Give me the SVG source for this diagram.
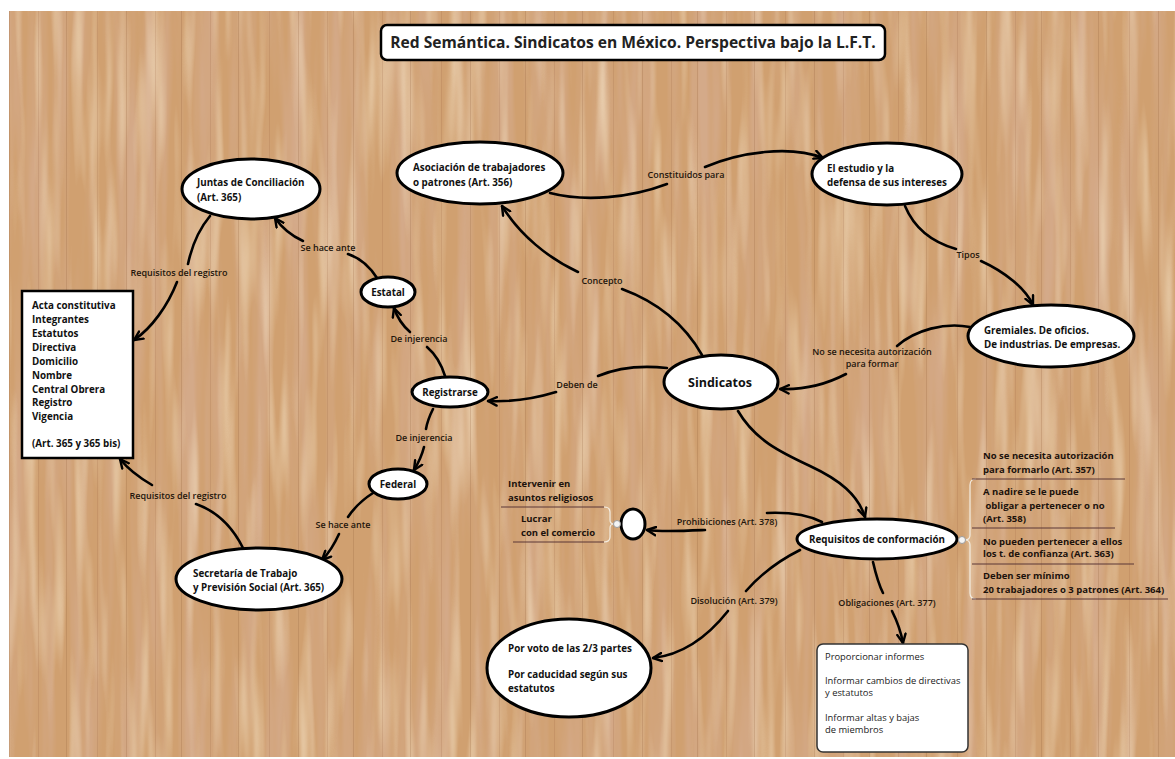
<svg xmlns="http://www.w3.org/2000/svg" width="1175" height="759" viewBox="0 0 1175 759">
<style>
  .node { fill: #ffffff; stroke: #000000; stroke-width: 3; }
  .nt { font-family: "Open Sans", "Noto Sans", sans-serif; font-weight: 700; font-size: 9.8px; fill: #111111; }
  .big { font-size: 12.5px; }
  .lbl { font-family: "Open Sans", "Noto Sans", sans-serif; font-weight: 600; font-size: 9px; fill: #24160c; text-anchor: middle; }
  .conn { fill: none; stroke: #000000; stroke-width: 2.6; stroke-linecap: round; }
  .sep { stroke: #5a3636; stroke-width: 1; }
  .brk { fill: none; stroke: #f4ede2; stroke-width: 1.2; }
  .dot { fill: #f4f4f4; stroke: #9a9a9a; stroke-width: 1; }
  .lt { font-family: "Open Sans", "Noto Sans", sans-serif; font-weight: 700; font-size: 9.5px; fill: #1c120c; }
  .ob { font-family: "Open Sans", "Noto Sans", sans-serif; font-weight: 400; font-size: 9.4px; fill: #222222; }
</style>
<defs>
  <marker id="arr" viewBox="0 0 10 10" refX="9" refY="5" markerWidth="11" markerHeight="11" markerUnits="userSpaceOnUse" orient="auto">
    <path d="M1,1.2 L9,5 L1,8.8" fill="none" stroke="#000" stroke-width="2.2" stroke-linecap="round" stroke-linejoin="round"/>
  </marker>
  <filter id="grain" x="0" y="0" width="100%" height="100%">
    <feTurbulence type="fractalNoise" baseFrequency="0.055 0.003" numOctaves="3" seed="7"/>
    <feColorMatrix type="matrix" values="0 0 0 0 0.66  0 0 0 0 0.40  0 0 0 0 0.25  2.6 0 0 0 -1.05"/>
  </filter>
  <filter id="grain2" x="0" y="0" width="100%" height="100%">
    <feTurbulence type="fractalNoise" baseFrequency="0.08 0.006" numOctaves="2" seed="21"/>
    <feColorMatrix type="matrix" values="0 0 0 0 0.88  0 0 0 0 0.72  0 0 0 0 0.52  1.6 0 0 0 -0.75"/>
  </filter>
  <pattern id="boards" x="9" y="0" width="172" height="759" patternUnits="userSpaceOnUse">
    <line x1="0.5" y1="0" x2="0.5" y2="759" stroke="#8f5a36" stroke-opacity="0.22" stroke-width="1"/>
    <line x1="29.5" y1="0" x2="29.5" y2="759" stroke="#8f5a36" stroke-opacity="0.16" stroke-width="1"/>
    <line x1="57.5" y1="0" x2="57.5" y2="759" stroke="#8f5a36" stroke-opacity="0.22" stroke-width="1"/>
    <line x1="88.5" y1="0" x2="88.5" y2="759" stroke="#8f5a36" stroke-opacity="0.16" stroke-width="1"/>
    <line x1="117.5" y1="0" x2="117.5" y2="759" stroke="#8f5a36" stroke-opacity="0.22" stroke-width="1"/>
    <line x1="146.5" y1="0" x2="146.5" y2="759" stroke="#8f5a36" stroke-opacity="0.16" stroke-width="1"/>
  </pattern>
</defs>

<rect x="0" y="0" width="1175" height="759" fill="#ffffff"/>
<g id="background">
  <rect x="9" y="11" width="1166" height="746" fill="#d0a070"/>
  <rect x="9" y="11" width="1166" height="746" filter="url(#grain)"/>
  <rect x="9" y="11" width="1166" height="746" filter="url(#grain2)"/>
  <rect x="9" y="11" width="1166" height="746" fill="url(#boards)"/>
</g>

<g id="title">
  <rect x="381" y="25" width="504" height="35" rx="6" ry="6" fill="#ffffff" stroke="#000" stroke-width="2.5"/>
  <text x="633" y="48" text-anchor="middle" font-family="'Open Sans', 'Noto Sans', sans-serif" font-weight="700" font-size="15.6px" fill="#222">Red Semántica. Sindicatos en México. Perspectiva bajo la L.F.T.</text>
</g>

<g id="connectors">
  <path class="conn" d="M550,193 C585,202 630,198 667,184"/>
  <path class="conn" d="M705,167 C740,152 790,145 823,158" marker-end="url(#arr)"/>
  <path class="conn" d="M905,206 C915,230 935,243 956,249"/>
  <path class="conn" d="M981,261 C1005,272 1025,288 1033,305" marker-end="url(#arr)"/>
  <path class="conn" d="M970,327 C945,322 915,330 897,346"/>
  <path class="conn" d="M846,374 C825,385 805,390 780,389" marker-end="url(#arr)"/>
  <path class="conn" d="M702,355 C685,325 660,303 622,289"/>
  <path class="conn" d="M578,272 C548,258 520,235 502,206" marker-end="url(#arr)"/>
  <path class="conn" d="M667,368 C640,365 617,368 598,376"/>
  <path class="conn" d="M556,392 C530,400 510,402 488,401" marker-end="url(#arr)"/>
  <path class="conn" d="M445,376 C441,363 434,353 427,347"/>
  <path class="conn" d="M410,332 C402,325 397,317 394,308" marker-end="url(#arr)"/>
  <path class="conn" d="M377,278 C370,267 360,258 348,254"/>
  <path class="conn" d="M303,241 C292,236 282,228 275,218" marker-end="url(#arr)"/>
  <path class="conn" d="M210,216 C200,228 192,245 188,264"/>
  <path class="conn" d="M177,282 C168,305 152,328 134,340" marker-end="url(#arr)"/>
  <path class="conn" d="M243,548 C232,526 216,511 196,504"/>
  <path class="conn" d="M152,485 C140,478 128,469 120,459" marker-end="url(#arr)"/>
  <path class="conn" d="M433,409 C429,417 427,423 426,429"/>
  <path class="conn" d="M424,447 C422,455 419,462 414,470" marker-end="url(#arr)"/>
  <path class="conn" d="M373,493 C362,500 354,508 348,517"/>
  <path class="conn" d="M339,534 C334,545 329,553 322,560" marker-end="url(#arr)"/>
  <path class="conn" d="M738,411 C755,440 780,452 810,466 C840,480 858,495 865,517" marker-end="url(#arr)"/>
  <path class="conn" d="M822,522 C810,516 790,512 767,513"/>
  <path class="conn" d="M705,530 C682,531 662,532 647,530" marker-end="url(#arr)"/>
  <path class="conn" d="M800,550 C780,560 760,575 746,591"/>
  <path class="conn" d="M728,611 C705,640 680,655 653,658" marker-end="url(#arr)"/>
  <path class="conn" d="M873,562 C876,575 879,585 883,593"/>
  <path class="conn" d="M892,611 C897,621 901,632 903,643" marker-end="url(#arr)"/>

  <text class="lbl" x="686" y="178">Constituidos para</text>
  <text class="lbl" x="968" y="258">Tipos</text>
  <text class="lbl" x="872" y="355">No se necesita autorización</text>
  <text class="lbl" x="872" y="367">para formar</text>
  <text class="lbl" x="602" y="284">Concepto</text>
  <text class="lbl" x="577" y="388">Deben de</text>
  <text class="lbl" x="419" y="342">De injerencia</text>
  <text class="lbl" x="424" y="441">De injerencia</text>
  <text class="lbl" x="328" y="251">Se hace ante</text>
  <text class="lbl" x="179" y="276">Requisitos del registro</text>
  <text class="lbl" x="178" y="499">Requisitos del registro</text>
  <text class="lbl" x="343" y="528">Se hace ante</text>
  <text class="lbl" x="727" y="525">Prohibiciones (Art. 378)</text>
  <text class="lbl" x="734" y="604">Disolución (Art. 379)</text>
  <text class="lbl" x="887" y="606">Obligaciones (Art. 377)</text>
</g>

<g id="node-juntas">
  <ellipse class="node" cx="251" cy="189" rx="69" ry="30"/>
  <text class="nt" x="197" y="186">Juntas de Conciliación</text>
  <text class="nt" x="197" y="201">(Art. 365)</text>
</g>
<g id="node-asociacion">
  <ellipse class="node" cx="480" cy="173" rx="83" ry="31"/>
  <text class="nt" x="413" y="171">Asociación de trabajadores</text>
  <text class="nt" x="413" y="186">o patrones (Art. 356)</text>
</g>
<g id="node-estudio">
  <ellipse class="node" cx="887" cy="174" rx="75" ry="31"/>
  <text class="nt" x="827" y="172">El estudio y la</text>
  <text class="nt" x="827" y="186">defensa de sus intereses</text>
</g>
<g id="node-gremiales">
  <ellipse class="node" cx="1051" cy="336" rx="83" ry="31"/>
  <text class="nt" x="984" y="334">Gremiales. De oficios.</text>
  <text class="nt" x="984" y="348">De industrias. De empresas.</text>
</g>
<g id="node-sindicatos">
  <ellipse class="node" cx="721" cy="382" rx="57" ry="27"/>
  <text class="nt big" x="720" y="387" text-anchor="middle">Sindicatos</text>
</g>
<g id="node-registrarse">
  <ellipse class="node" cx="450" cy="392" rx="38" ry="15"/>
  <text class="nt" x="450" y="396" text-anchor="middle">Registrarse</text>
</g>
<g id="node-estatal">
  <ellipse class="node" cx="388" cy="292" rx="27" ry="15"/>
  <text class="nt" x="388" y="296" text-anchor="middle">Estatal</text>
</g>
<g id="node-federal">
  <ellipse class="node" cx="398" cy="484" rx="29" ry="15"/>
  <text class="nt" x="398" y="488" text-anchor="middle">Federal</text>
</g>
<g id="node-acta">
  <rect x="22" y="291" width="111" height="167" fill="#ffffff" stroke="#000" stroke-width="2.5"/>
  <text class="nt" x="32" y="309">Acta constitutiva</text>
  <text class="nt" x="32" y="323">Integrantes</text>
  <text class="nt" x="32" y="337">Estatutos</text>
  <text class="nt" x="32" y="351">Directiva</text>
  <text class="nt" x="32" y="365">Domicilio</text>
  <text class="nt" x="32" y="379">Nombre</text>
  <text class="nt" x="32" y="393">Central Obrera</text>
  <text class="nt" x="32" y="406">Registro</text>
  <text class="nt" x="32" y="420">Vigencia</text>
  <text class="nt" x="32" y="447">(Art. 365 y 365 bis)</text>
</g>
<g id="node-secretaria">
  <ellipse class="node" cx="259" cy="579" rx="83" ry="31"/>
  <text class="nt" x="193" y="577">Secretaría de Trabajo</text>
  <text class="nt" x="193" y="591">y Previsión Social (Art. 365)</text>
</g>
<g id="node-requisitos">
  <ellipse class="node" cx="877" cy="539" rx="80" ry="20"/>
  <text class="nt" x="877" y="543" text-anchor="middle">Requisitos de conformación</text>
</g>
<g id="node-prohibiciones">
  <ellipse class="node" cx="633" cy="524" rx="12" ry="15"/>
</g>
<g id="node-disolucion">
  <ellipse class="node" cx="569" cy="668" rx="82" ry="49"/>
  <text class="nt" x="508" y="652">Por voto de las 2/3 partes</text>
  <text class="nt" x="508" y="678">Por caducidad según sus</text>
  <text class="nt" x="508" y="692">estatutos</text>
</g>
<g id="node-obligaciones">
  <rect x="817" y="644" width="151" height="108" rx="6" ry="6" fill="#ffffff" stroke="#333" stroke-width="1.5"/>
  <text class="ob" x="825" y="660">Proporcionar informes</text>
  <text class="ob" x="825" y="684">Informar cambios de directivas</text>
  <text class="ob" x="825" y="696">y estatutos</text>
  <text class="ob" x="825" y="721">Informar altas y bajas</text>
  <text class="ob" x="825" y="733">de miembros</text>
</g>
<g id="node-lista-requisitos">
  <path class="brk" d="M976,479 Q970,479 970,485 L970,535 Q970,540 965,540 Q970,540 970,545 L970,593 Q970,599 976,599"/>
  <circle class="dot" cx="962" cy="540" r="3.5"/>
  <line class="sep" x1="972" y1="479" x2="1125" y2="479"/>
  <line class="sep" x1="972" y1="528" x2="1115" y2="528"/>
  <line class="sep" x1="972" y1="564" x2="1134" y2="564"/>
  <line class="sep" x1="972" y1="599" x2="1168" y2="599"/>
  <text class="lt" x="983" y="459">No se necesita autorización</text>
  <text class="lt" x="983" y="473">para formarlo (Art. 357)</text>
  <text class="lt" x="983" y="495">A nadire se le puede</text>
  <text class="lt" x="983" y="509" xml:space="preserve"> obligar a pertenecer o no</text>
  <text class="lt" x="983" y="522">(Art. 358)</text>
  <text class="lt" x="983" y="545">No pueden pertenecer a ellos</text>
  <text class="lt" x="983" y="557">los t. de confianza (Art. 363)</text>
  <text class="lt" x="983" y="579">Deben ser mínimo</text>
  <text class="lt" x="983" y="593">20 trabajadores o 3 patrones (Art. 364)</text>
</g>
<g id="node-lista-prohibiciones">
  <path class="brk" d="M604,507 Q610,507 610,512 L610,520 Q610,524 614,524 Q610,524 610,528 L610,537 Q610,542 604,542"/>
  <circle class="dot" cx="617" cy="524" r="3.5"/>
  <line class="sep" x1="501" y1="507" x2="604" y2="507"/>
  <line class="sep" x1="513" y1="542" x2="604" y2="542"/>
  <text class="lt" x="508" y="487">Intervenir en</text>
  <text class="lt" x="508" y="501">asuntos religiosos</text>
  <text class="lt" x="521" y="522">Lucrar</text>
  <text class="lt" x="521" y="536">con el comercio</text>
</g>
</svg>
